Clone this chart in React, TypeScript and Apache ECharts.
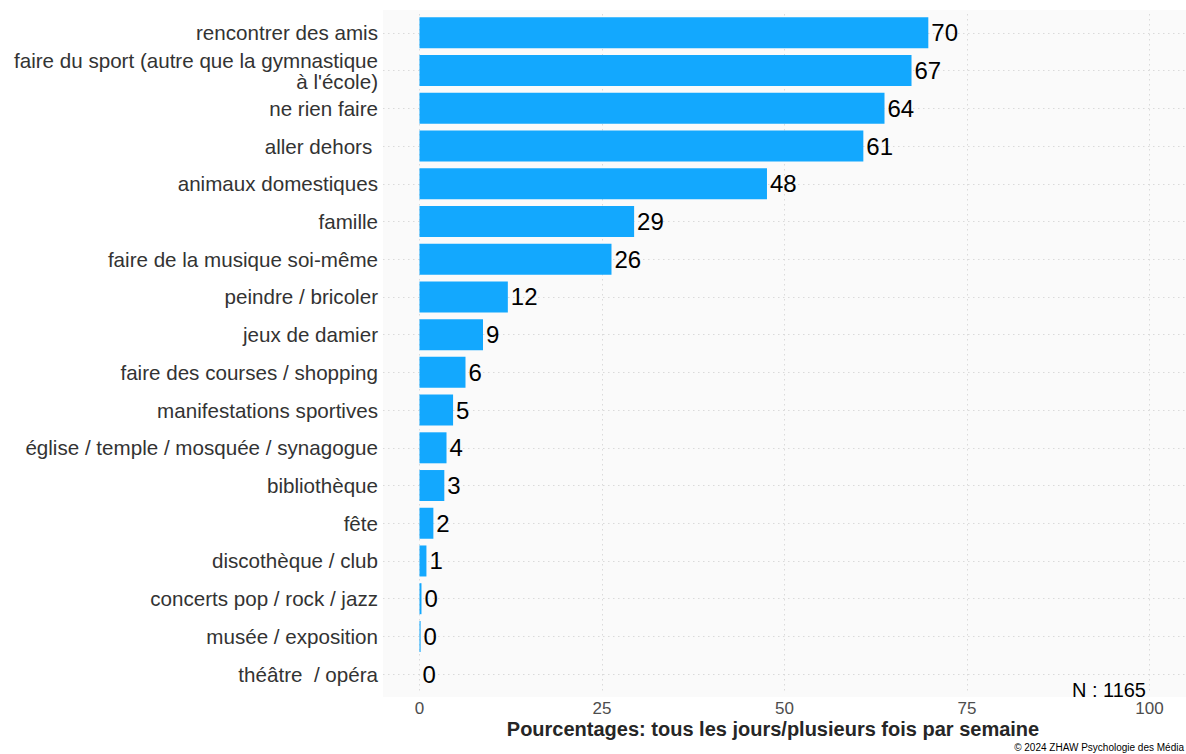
import React, { useEffect, useRef } from "react";
import * as echarts from "echarts";

const categories: string[] = [
  "rencontrer des amis",
  "faire du sport (autre que la gymnastique\nà l'école)",
  "ne rien faire",
  "aller dehors ",
  "animaux domestiques",
  "famille",
  "faire de la musique soi-même",
  "peindre / bricoler",
  "jeux de damier",
  "faire des courses / shopping",
  "manifestations sportives",
  "église / temple / mosquée / synagogue",
  "bibliothèque",
  "fête",
  "discothèque / club",
  "concerts pop / rock / jazz",
  "musée / exposition",
  "théâtre  / opéra",
];

const values: number[] = [
  69.7, 67.4, 63.7, 60.8, 47.6, 29.4, 26.3, 12.1, 8.7, 6.3, 4.6, 3.7, 3.4, 1.9, 0.95, 0.27, 0.15, 0,
];

const xTicks: number[] = [0, 25, 50, 75, 100];

const xTitle = "Pourcentages: tous les jours/plusieurs fois par semaine";
const sampleNote = "N : 1165";
const copyright = "© 2024 ZHAW Psychologie des Média";

const FONT = "'Liberation Sans', Arial, Helvetica, sans-serif";

export default function App() {
  const ref = useRef<HTMLDivElement>(null);

  useEffect(() => {
    if (!ref.current) return;
    const chart = echarts.init(ref.current, undefined, { renderer: "svg" });
    const gridLine = { color: "#dadada", width: 1, type: [1.5, 3.5] as any };
    chart.setOption({
      animation: false,
      backgroundColor: "#ffffff",
      textStyle: { fontFamily: FONT },
      graphic: [
        {
          type: "rect",
          z: -10,
          silent: true,
          shape: { x: 383, y: 10, width: 810, height: 687 },
          style: { fill: "#fafafa" },
        },
        {
          type: "text",
          x: 773,
          y: 729,
          style: {
            text: xTitle,
            font: `bold 20px ${FONT}`,
            fill: "#262626",
            textAlign: "center",
            textVerticalAlign: "middle",
          },
        },
        {
          type: "text",
          x: 1146,
          y: 690,
          style: {
            text: sampleNote,
            font: `20px ${FONT}`,
            fill: "#000000",
            textAlign: "right",
            textVerticalAlign: "middle",
          },
        },
        {
          type: "text",
          x: 1184,
          y: 747,
          style: {
            text: copyright,
            font: `10px ${FONT}`,
            fill: "#000000",
            textAlign: "right",
            textVerticalAlign: "middle",
          },
        },
      ],
      grid: { left: 383, top: 14, width: 807, height: 679, containLabel: false },
      xAxis: {
        type: "value",
        min: -5,
        max: 105,
        axisLine: { show: false },
        axisTick: { show: false, customValues: xTicks },
        axisLabel: {
          customValues: xTicks,
          color: "#4d4d4d",
          fontSize: 17,
          lineHeight: 17,
          margin: 7,
          fontFamily: FONT,
        },
        splitLine: { show: true, lineStyle: gridLine },
      },
      yAxis: {
        type: "category",
        data: categories,
        inverse: true,
        axisLine: { show: false },
        axisTick: { show: false },
        axisLabel: {
          color: "#333333",
          fontSize: 20.6,
          lineHeight: 21,
          margin: 5,
          fontFamily: FONT,
          align: "right",
        },
        splitLine: { show: true, alignWithLabel: true, lineStyle: gridLine } as any,
      },
      series: [
        {
          type: "bar",
          data: values,
          barWidth: 31,
          itemStyle: { color: "#13a8fe" },
          label: {
            show: true,
            position: "right",
            distance: 3,
            color: "#000000",
            fontSize: 24,
            fontFamily: FONT,
            formatter: (p: any) => String(Math.round(p.value)),
          },
        },
      ],
    });
    return () => chart.dispose();
  }, []);

  return (
    <div
      ref={ref}
      style={{ position: "absolute", left: 0, top: 0, width: 1186, height: 754 }}
    />
  );
}
